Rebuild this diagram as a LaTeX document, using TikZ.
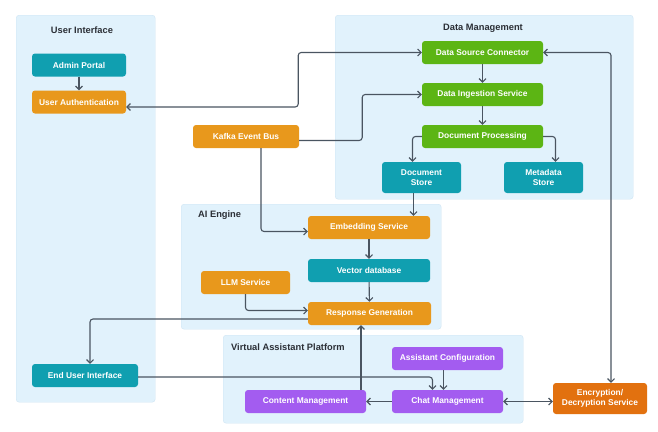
\documentclass[tikz,border=0pt]{standalone}
\usepackage{fontspec}
\setmainfont{Liberation Sans}
\usetikzlibrary{arrows.meta, positioning, calc}
\definecolor{PanelBlue}{HTML}{E1F2FC}
\definecolor{PanelEdge}{HTML}{CFE5F4}
\definecolor{TealBox}{HTML}{109FB0}
\definecolor{AmberBox}{HTML}{E8981C}
\definecolor{GreenBox}{HTML}{5CB514}
\definecolor{VioletBox}{HTML}{A35CF0}
\definecolor{RustBox}{HTML}{E2710F}
\definecolor{WireGray}{HTML}{4A5561}
\definecolor{TitleGray}{HTML}{2B2F36}
\tikzset{
  panel/.style={rectangle, rounded corners=3pt, draw=PanelEdge, fill=PanelBlue, anchor=north west, inner sep=0pt},
  paneltitle/.style={font=\fontsize{9.3}{11}\selectfont\bfseries, text=TitleGray, inner sep=0pt},
  svcbox/.style={rectangle, rounded corners=3pt, minimum height=23pt, text=white, font=\fontsize{8.4}{10.2}\selectfont\bfseries, align=center, inner sep=1pt},
  tealbox/.style={svcbox, fill=TealBox},
  amberbox/.style={svcbox, fill=AmberBox},
  greenbox/.style={svcbox, fill=GreenBox, minimum width=121pt},
  violetbox/.style={svcbox, fill=VioletBox, minimum width=111pt},
  rustbox/.style={svcbox, fill=RustBox},
  flow/.style={-{Straight Barb[length=3.5pt,width=7pt]}, line width=1.1pt, WireGray, rounded corners=3pt},
  dualflow/.style={flow, {Straight Barb[length=3.5pt,width=7pt]}-{Straight Barb[length=3.5pt,width=7pt]}}
}
\begin{document}
\begin{tikzpicture}[x=1pt, y=-1pt]
  \useasboundingbox (0,0) rectangle (658,431);
  \fill[white] (0,0) rectangle (658,431);

  % groups
  \node[panel, minimum width=139pt, minimum height=387pt] (uipanel) at (16,15) {};
  \node[panel, minimum width=298pt, minimum height=184pt] (datapanel) at (335,15) {};
  \node[panel, minimum width=260pt, minimum height=125pt] (aipanel) at (181,204) {};
  \node[panel, minimum width=300pt, minimum height=88pt] (vapanel) at (223,335) {};

  \node[paneltitle] (uititle) at (82,30) {User Interface};
  \node[paneltitle] (datatitle) at (483,28) {Data Management};
  \node[paneltitle, anchor=west] (aititle) at (198,215) {AI Engine};
  \node[paneltitle, anchor=west] (vatitle) at (231,347) {Virtual Assistant Platform};

  % user interface
  \node[tealbox, minimum width=94pt] (admin) at (79,65) {Admin Portal};
  \node[amberbox, minimum width=94pt] (userauth) at (79,102) {User Authentication};
  \node[tealbox, minimum width=106pt] (enduser) at (85,375.5) {End User Interface};

  % data management
  \node[greenbox] (dsc) at (482.5,52.5) {Data Source Connector};
  \node[greenbox] (ingest) at (482.5,94.5) {Data Ingestion Service};
  \node[greenbox] (proc) at (482.5,136.5) {Document Processing};
  \node[tealbox, minimum width=79pt, minimum height=31pt] (docstore) at (421.5,177.5) {Document\\Store};
  \node[tealbox, minimum width=79pt, minimum height=31pt] (metastore) at (543.5,177.5) {Metadata\\Store};

  \node[amberbox, minimum width=106pt] (kafka) at (246,136.5) {Kafka Event Bus};

  % ai engine
  \node[amberbox, minimum width=122pt] (embed) at (369,227.5) {Embedding Service};
  \node[tealbox, minimum width=122pt] (vectordb) at (369,270.5) {Vector database};
  \node[amberbox, minimum width=89pt] (llm) at (245.5,282.5) {LLM Service};
  \node[amberbox, minimum width=123pt] (respgen) at (369.5,313.5) {Response Generation};

  % virtual assistant platform
  \node[violetbox] (config) at (447.5,358.5) {Assistant Configuration};
  \node[violetbox] (chat) at (447.5,401.5) {Chat Management};
  \node[violetbox, minimum width=121pt] (content) at (305.5,401.5) {Content Management};

  \node[rustbox, minimum width=94pt, minimum height=31pt] (crypt) at (600,398.5) {Encryption/\\Decryption Service};

  % connections
  \draw[flow] (admin) -- (userauth);
  \draw[dualflow] ([yshift=-5pt]userauth.east) -- ++(172,0) |- (dsc.west);
  \draw[flow] ([yshift=-4pt]kafka.east) -- ++(63,0) |- (ingest.west);
  \draw[flow] (dsc) -- (ingest);
  \draw[flow] (ingest) -- (proc);
  \draw[flow] (proc.west) -| ([xshift=-9pt]docstore.north);
  \draw[flow] (proc.east) -| ([xshift=12pt]metastore.north);
  \draw[flow] ([xshift=-8pt]docstore.south) -- ([xshift=-8pt]docstore.south |- embed.north);
  \draw[flow] ([xshift=15pt]kafka.south) |- ([yshift=-4pt]embed.west);
  \draw[flow] (embed) -- (vectordb);
  \draw[flow] (vectordb) -- (respgen);
  \draw[flow] (llm.south) |- ([yshift=3pt]respgen.west);
  \draw[flow] ([yshift=-5.5pt]respgen.west) -| ([xshift=5pt]enduser.north);
  \draw[flow] ([xshift=-8.5pt]respgen.south |- content.north) -- ([xshift=-8.5pt]respgen.south);
  \draw[flow] ([yshift=-1.5pt]enduser.east) -| ([xshift=-15pt]chat.north);
  \draw[flow] ([xshift=-4pt]config.south) -- ([xshift=-4pt]chat.north);
  \draw[flow] (chat) -- (content);
  \draw[dualflow] (chat.east) -- (chat.east -| crypt.west);
  \draw[dualflow] (dsc.east) -| ([xshift=11pt]crypt.north);
\end{tikzpicture}
\end{document}
